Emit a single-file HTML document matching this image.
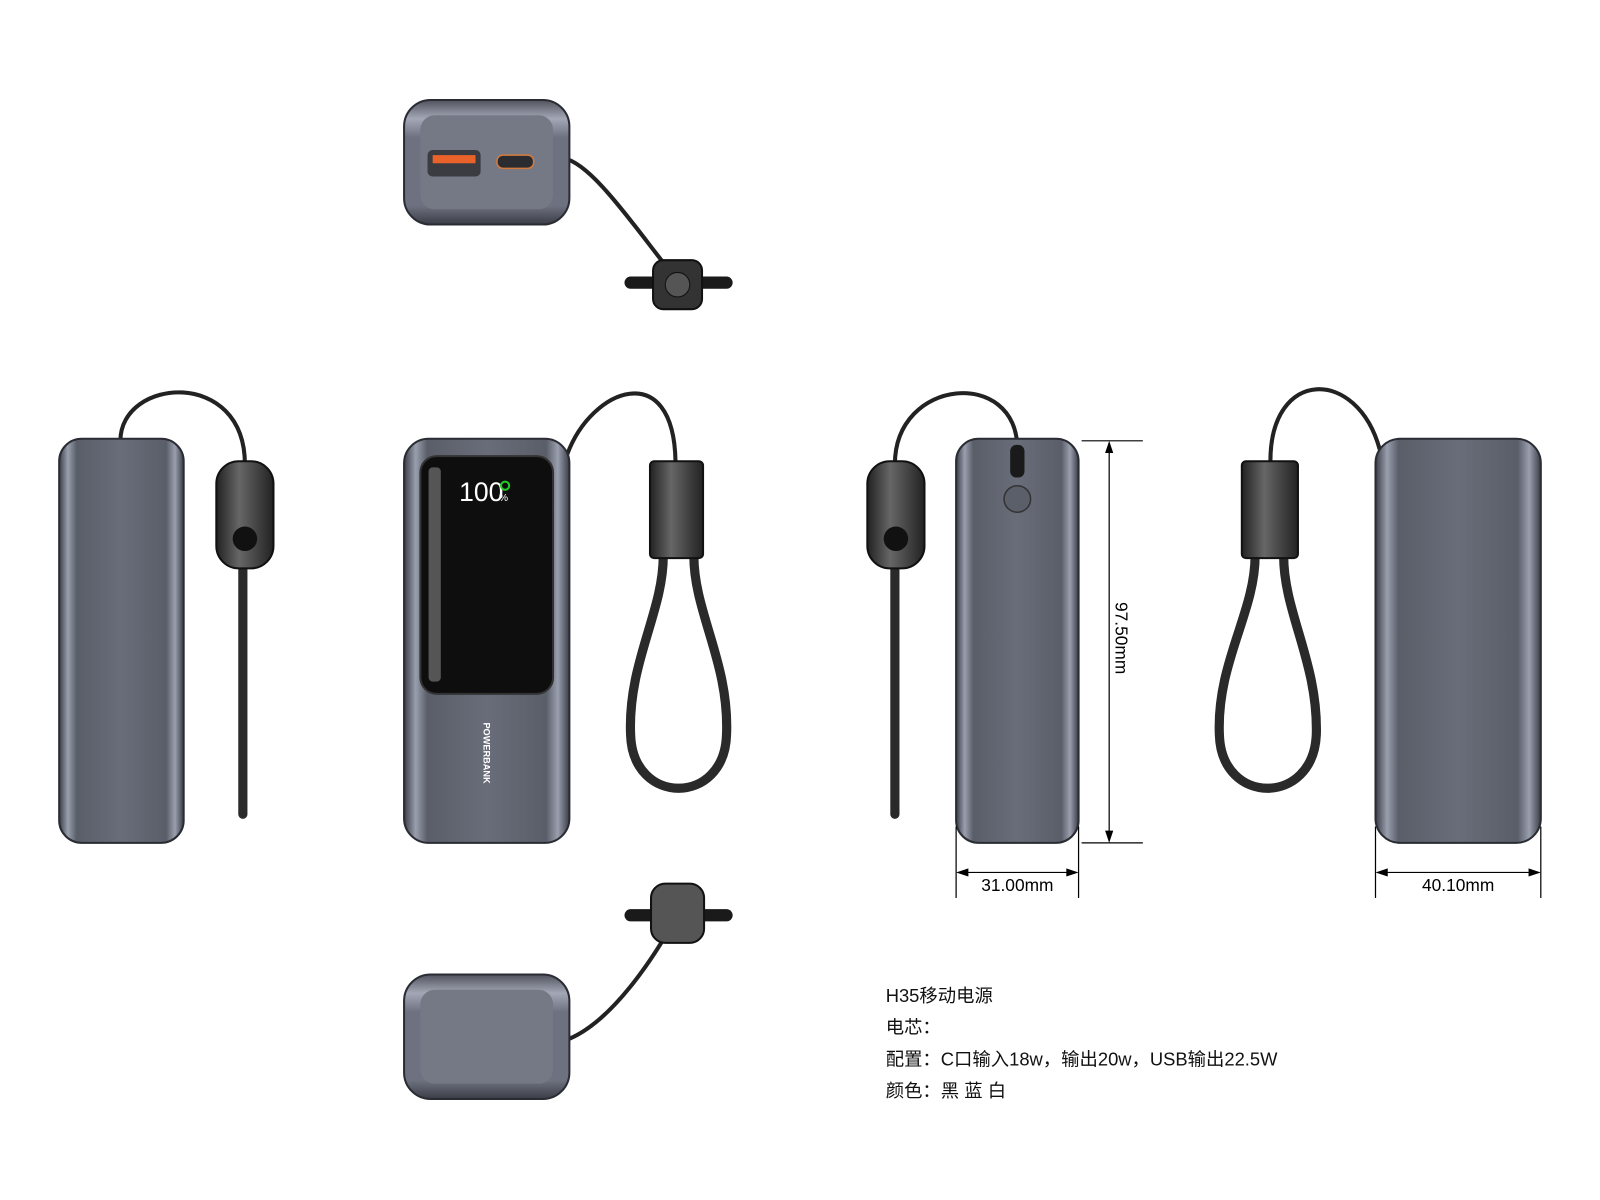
<!DOCTYPE html>
<html><head><meta charset="utf-8"><style>
html,body{margin:0;padding:0;background:#fff}
svg{display:block}
text{font-family:"Liberation Sans","Noto Sans CJK SC",sans-serif}
</style></head><body>
<svg width="1600" height="1200" viewBox="0 0 1600 1200" xmlns="http://www.w3.org/2000/svg">
<defs>
<linearGradient id="body" x1="0" x2="1" y1="0" y2="0">
<stop offset="0" stop-color="#3a3d46"/><stop offset="0.07" stop-color="#9a9fae"/><stop offset="0.14" stop-color="#5a5e69"/><stop offset="0.5" stop-color="#696d79"/><stop offset="0.86" stop-color="#5a5e69"/><stop offset="0.93" stop-color="#9a9fae"/><stop offset="1" stop-color="#3a3d46"/>
</linearGradient>
<linearGradient id="top" x1="0" x2="0" y1="0" y2="1">
<stop offset="0" stop-color="#50535d"/><stop offset="0.15" stop-color="#a4a8b6"/><stop offset="0.3" stop-color="#6e7280"/><stop offset="0.85" stop-color="#6e7280"/><stop offset="1" stop-color="#3a3d46"/>
</linearGradient>
<linearGradient id="conn" x1="0" x2="1"><stop offset="0" stop-color="#222"/><stop offset="0.4" stop-color="#666"/><stop offset="1" stop-color="#222"/></linearGradient>
</defs>
<g transform="scale(1.0204)">
<g fill="none" stroke="#222" stroke-width="4" stroke-linecap="round">
<path d="M118 432 C118 370 240 360 240 455"/>
<path d="M556 445 C580 380 660 350 662 452"/>
<path d="M997 440 C997 360 877 370 877 455"/>
<path d="M1245 452 C1245 360 1330 360 1352 440"/>
<path d="M552 155 C580 160 620 220 660 270"/>
<path d="M558 1018 C600 1000 640 940 662 900"/>
</g>
<g fill="none" stroke="#2a2a2a" stroke-width="9" stroke-linecap="round">
<path d="M238 545 L238 798"/>
<path d="M877 545 L877 798"/>
<path d="M650 545 C650 600 615 650 618 720 C620 790 710 790 712 720 C715 650 680 600 680 545"/>
<path d="M1230 545 C1230 600 1192 650 1195 720 C1197 790 1287 790 1290 720 C1292 650 1258 600 1258 545"/>
</g>
<g fill="url(#conn)" stroke="#111" stroke-width="2">
<rect x="212" y="452" width="56" height="105" rx="22"/>
<rect x="850" y="452" width="56" height="105" rx="22"/>
<rect x="637" y="452" width="52" height="95" rx="4"/>
<rect x="1217" y="452" width="55" height="95" rx="4"/>
</g>
<circle cx="240" cy="528" r="12" fill="#111"/><circle cx="878" cy="528" r="12" fill="#111"/>
<rect x="58" y="430" width="122" height="396" rx="22" fill="url(#body)" stroke="#2a2c33" stroke-width="2"/>
<rect x="396" y="430" width="162" height="396" rx="24" fill="url(#body)" stroke="#2a2c33" stroke-width="2"/>
<rect x="412" y="447" width="130" height="233" rx="16" fill="#0e0e0f" stroke="#333" stroke-width="2"/>
<rect x="420" y="458" width="12" height="210" rx="4" fill="#555"/>
<text x="450" y="491" font-size="26" fill="#fff" font-family="Liberation Mono">100</text>
<text x="489" y="491" font-size="10" fill="#fff">%</text>
<circle cx="495" cy="476" r="4" fill="none" stroke="#2c2" stroke-width="2"/>
<text x="0" y="0" font-size="9" font-weight="bold" fill="#fff" transform="translate(474,708) rotate(90)">POWERBANK</text>
<rect x="937" y="430" width="120" height="396" rx="22" fill="url(#body)" stroke="#2a2c33" stroke-width="2"/>
<circle cx="997" cy="489" r="13" fill="#5b5f6a" stroke="#333" stroke-width="1.5"/>
<rect x="990" y="436" width="14" height="32" rx="6" fill="#1a1a1a"/>
<rect x="1348" y="430" width="162" height="396" rx="24" fill="url(#body)" stroke="#2a2c33" stroke-width="2"/>
<rect x="396" y="98" width="162" height="122" rx="26" fill="url(#top)" stroke="#2a2c33" stroke-width="2"/>
<rect x="412" y="113" width="130" height="92" rx="14" fill="#757986"/>
<rect x="419" y="147" width="52" height="26" rx="5" fill="#3a3c42"/><rect x="424" y="152" width="42" height="8" fill="#e8622a"/>
<rect x="487" y="152" width="36" height="13" rx="6" fill="#2a2c30" stroke="#d57a3a" stroke-width="1.5"/>
<rect x="612" y="271" width="106" height="12" rx="6" fill="#1a1a1a"/>
<rect x="640" y="255" width="48" height="48" rx="10" fill="#333" stroke="#111" stroke-width="2"/>
<circle cx="664" cy="279" r="12" fill="#555" stroke="#111"/>
<rect x="612" y="891" width="106" height="12" rx="6" fill="#1a1a1a"/>
<rect x="638" y="866" width="52" height="58" rx="14" fill="#555" stroke="#111" stroke-width="2"/>
<rect x="396" y="955" width="162" height="122" rx="26" fill="url(#top)" stroke="#2a2c33" stroke-width="2"/>
<rect x="412" y="970" width="130" height="92" rx="14" fill="#757986"/>
<g stroke="#000" stroke-width="1.2" fill="none">
<line x1="1060" y1="432" x2="1120" y2="432"/><line x1="1060" y1="826" x2="1120" y2="826"/>
<line x1="1087" y1="434" x2="1087" y2="824"/>
<line x1="937" y1="810" x2="937" y2="880"/><line x1="1057" y1="810" x2="1057" y2="880"/>
<line x1="939" y1="855" x2="1055" y2="855"/>
<line x1="1348" y1="810" x2="1348" y2="880"/><line x1="1510" y1="810" x2="1510" y2="880"/>
<line x1="1350" y1="855" x2="1508" y2="855"/>
</g>
<g fill="#000">
<path d="M1087 432 l-4 12 h8z"/><path d="M1087 826 l-4 -12 h8z"/>
<path d="M937 855 l12 -4 v8z"/><path d="M1057 855 l-12 -4 v8z"/>
<path d="M1348 855 l12 -4 v8z"/><path d="M1510 855 l-12 -4 v8z"/>
</g>
<text font-size="17" fill="#000" transform="translate(1093,590) rotate(90)">97.50mm</text>
<text x="997" y="873" font-size="17" text-anchor="middle">31.00mm</text>
<text x="1429" y="873" font-size="17" text-anchor="middle">40.10mm</text>
<g font-size="18" fill="#111">
<text x="868" y="982">H35移动电源</text>
<text x="868" y="1013">电芯：</text>
<text x="868" y="1044">配置：C口输入18w，输出20w，USB输出22.5W</text>
<text x="868" y="1075">颜色：黑 蓝 白</text>
</g>
</g>
</svg>
</body></html>
